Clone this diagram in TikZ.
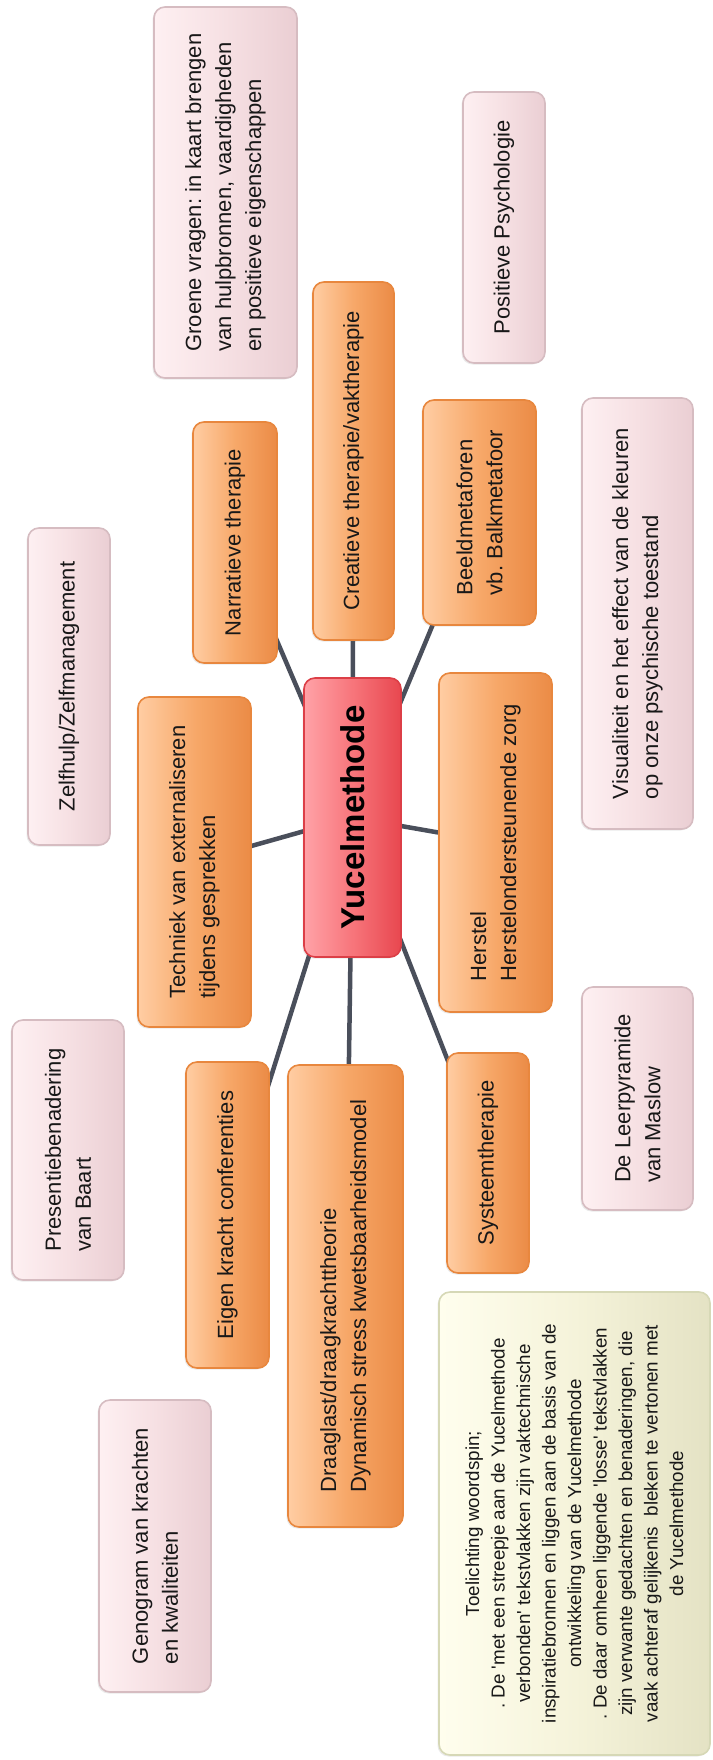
\documentclass[tikz,border=0pt]{standalone}
\usepackage{fontspec}
\setmainfont{Liberation Sans}
\newfontfamily\plainf{Liberation Sans}
\frenchspacing
\usetikzlibrary{shadows}
\pgfdeclarelayer{bg}
\pgfsetlayers{bg,main}
\definecolor{conn}{HTML}{4A4F5B}
\definecolor{orlt}{HTML}{FFCDA3}
\definecolor{ormd}{HTML}{F7A869}
\definecolor{ordk}{HTML}{EB8B46}
\definecolor{orbd}{HTML}{E8873E}
\definecolor{pklt}{HTML}{FEF0F2}
\definecolor{pkmd}{HTML}{F6E0E3}
\definecolor{pkdk}{HTML}{EACED3}
\definecolor{pkbd}{HTML}{D6BCC1}
\definecolor{rdlt}{HTML}{FFA2A7}
\definecolor{rdmd}{HTML}{F7757B}
\definecolor{rddk}{HTML}{E8474F}
\definecolor{rdbd}{HTML}{DC3F47}
\definecolor{yllt}{HTML}{FFFEEE}
\definecolor{ylmd}{HTML}{F5F3DA}
\definecolor{yldk}{HTML}{E4E2C4}
\definecolor{ylbd}{HTML}{D6D8B6}
\definecolor{txt}{HTML}{181818}
\tikzset{
  box/.style={rotate=90, rounded corners=11pt, line width=1.6pt, inner sep=0pt,
    align=left, font=\plainf\fontsize{22}{30}\selectfont, text=txt,
    drop shadow={opacity=0.16, shadow xshift=-1.5pt, shadow yshift=-1.5pt}},
  orangebox/.style={box, draw=orbd, left color=orlt, right color=ordk, middle color=ormd},
  pinkbox/.style={box, draw=pkbd, left color=pklt, right color=pkdk, middle color=pkmd},
  redbox/.style={box, draw=rdbd, left color=rdlt, right color=rddk, middle color=rdmd,
    font=\plainf\fontsize{33}{38}\selectfont\bfseries, text=black},
  notebox/.style={box, draw=ylbd, left color=yllt, right color=yldk, middle color=ylmd,
    align=center, font=\plainf\fontsize{18.8}{25.5}\selectfont},
  link/.style={draw=conn, line width=4.5pt}
}
\begin{document}
\begin{tikzpicture}[x=1pt, y=-1pt]
\useasboundingbox (0,0) rectangle (712,1760);
\begin{pgfonlayer}{bg}
  \fill[white] (0,0) rectangle (712,1760);
\end{pgfonlayer}

\node[pinkbox, minimum width=371pt, minimum height=143pt] (groene) at (225.5,192.5)
  {Groene vragen: in kaart brengen\\van hulpbronnen, vaardigheden\\en positieve eigenschappen};
\node[pinkbox, minimum width=271pt, minimum height=82pt] (posi) at (504,227.5)
  {Positieve Psychologie};
\node[orangebox, minimum width=358pt, minimum height=81pt] (crea) at (353.5,461)
  {Creatieve therapie/vaktherapie};
\node[orangebox, minimum width=241pt, minimum height=84pt] (narr) at (235,542.5)
  {Narratieve therapie};
\node[orangebox, minimum width=225pt, minimum height=113pt] (beeld) at (479.5,512.5)
  {Beeldmetaforen\\vb. Balkmetafoor};
\node[pinkbox, minimum width=317pt, minimum height=82pt] (zelf) at (69,686.5)
  {Zelfhulp/Zelfmanagement};
\node[pinkbox, minimum width=431pt, minimum height=111pt] (visu) at (637.5,613.5)
  {Visualiteit en het effect van de kleuren\\op onze psychische toestand};
\node[redbox, minimum width=279pt, minimum height=97pt] (yucel) at (352.5,817.5)
  {Yucelmethode};
\node[orangebox, minimum width=330pt, minimum height=113pt] (tech) at (194.5,862)
  {Techniek van externaliseren\\tijdens gesprekken};
\node[orangebox, minimum width=339pt, minimum height=113pt] (herstel) at (495.5,842.5)
  {Herstel\\Herstelondersteunende zorg};
\node[pinkbox, minimum width=260pt, minimum height=112pt] (pres) at (68,1150)
  {Presentiebenadering\\van Baart};
\node[orangebox, minimum width=306pt, minimum height=83pt] (eigen) at (227.5,1215)
  {Eigen kracht conferenties};
\node[orangebox, minimum width=462pt, minimum height=115pt] (draag) at (345.5,1296)
  {Draaglast/draagkrachttheorie\\Dynamisch stress kwetsbaarheidsmodel};
\node[orangebox, minimum width=220pt, minimum height=82pt] (syst) at (488,1163)
  {Systeemtherapie};
\node[pinkbox, minimum width=223pt, minimum height=111pt] (leer) at (637.5,1098.5)
  {De Leerpyramide\\van Maslow};
\node[pinkbox, minimum width=292pt, minimum height=112pt] (geno) at (155,1546)
  {Genogram van krachten\\en kwaliteiten};
\node[notebox, minimum width=463pt, minimum height=271pt] (toel) at (574.5,1523.5)
  {Toelichting woordspin;\\
   . De 'met een streepje aan de Yucelmethode\\
   verbonden' tekstvlakken zijn vaktechnische\\
   inspiratiebronnen en liggen aan de basis van de\\
   ontwikkeling van de Yucelmethode\\
   . De daar omheen liggende 'losse' tekstvlakken\\
   zijn verwante gedachten en benaderingen, die\\
   vaak achteraf gelijkenis\ \ bleken te vertonen met\\
   de Yucelmethode};

\begin{pgfonlayer}{bg}
  \foreach \c in {narr,crea,beeld,tech,herstel,eigen,draag,syst}
    \draw[link] (\c.center) -- (yucel.center);
\end{pgfonlayer}
\end{tikzpicture}
\end{document}
